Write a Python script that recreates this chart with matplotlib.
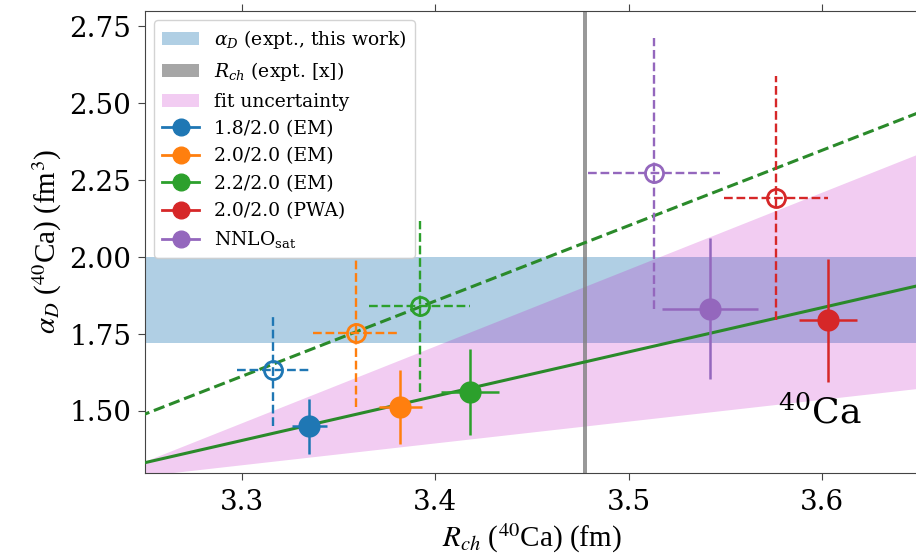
import matplotlib
matplotlib.use("Agg")
import matplotlib.pyplot as plt
import numpy as np
from matplotlib.lines import Line2D
from matplotlib.patches import Patch

# ---------------- data ----------------
labels = ['1.8/2.0 (EM)', '2.0/2.0 (EM)', '2.2/2.0 (EM)', '2.0/2.0 (PWA)', r'NNLO$_{\rm sat}$']
colors = ['#1f77b4', '#ff7f0e', '#2ca02c', '#d62728', '#9467bd']

# filled points (solid error bars)
r_filled = [3.335, 3.382, 3.418, 3.603, 3.542]
a_filled = [1.450, 1.512, 1.562, 1.795, 1.833]
r_filled_err = [0.009, 0.011, 0.015, 0.015, 0.025]
a_filled_err = [0.090, 0.120, 0.140, 0.200, 0.230]

# open points (dashed error bars)
r_open = [3.316, 3.359, 3.392, 3.576, 3.513]
a_open = [1.632, 1.752, 1.840, 2.192, 2.273]
r_open_err = [0.0185, 0.022, 0.026, 0.027, 0.034]
a_open_err = [0.180, 0.240, 0.277, 0.397, 0.440]

# experimental bands
alpha_expt = [1.72, 2.00]          # alpha_D band (lo, hi)
rch_expt = 3.4776                   # R_ch experiment
rch_expt_err = 0.001

# linear fits: alpha = intercept + slope * R
fit_solid = (-3.348, 1.44)
fit_dashed = (-6.4725, 2.45)
band_lower = (-1.0196, 0.71)
band_upper = (-6.7905, 2.50)

xlim = (3.25, 3.65)
ylim = (1.30, 2.80)
xticks = [3.3, 3.4, 3.5, 3.6]
yticks = [1.50, 1.75, 2.00, 2.25, 2.50, 2.75]

# ---------------- plot ----------------
W, H = 916, 557
fig = plt.figure(figsize=(W / 100, H / 100), dpi=100)
ax = fig.add_axes([145 / W, 1 - 472.5 / H, (919 - 145) / W, (472.5 - 11) / H])

serif = ['DejaVu Serif']
xs = np.linspace(xlim[0] - 0.05, xlim[1] + 0.05, 200)

# bands
ax.axhspan(alpha_expt[0], alpha_expt[1], color='#1f77b4', alpha=0.35, lw=0, zorder=1)
ax.fill_between(xs, band_lower[0] + band_lower[1] * xs, band_upper[0] + band_upper[1] * xs,
                color='m', alpha=0.2, lw=0, zorder=1.5)
ax.axvspan(rch_expt - rch_expt_err, rch_expt + rch_expt_err, color='grey', alpha=0.8, lw=0, zorder=2)

# fit lines
line_green = '#2a8a2a'
ax.plot(xs, fit_solid[0] + fit_solid[1] * xs, '-', color=line_green, lw=2.2, zorder=3)
ax.plot(xs, fit_dashed[0] + fit_dashed[1] * xs, '--', color=line_green, lw=2.2, zorder=3)

# points
for i, c in enumerate(colors):
    eb = ax.errorbar(r_open[i], a_open[i], xerr=r_open_err[i], yerr=a_open_err[i],
                     fmt='o', mfc='none', mec=c, ms=13, mew=2, ecolor=c,
                     elinewidth=1.7, capsize=0, zorder=4)
    for lc in eb[2]:
        lc.set_linestyle('--')
    ax.errorbar(r_filled[i], a_filled[i], xerr=r_filled_err[i], yerr=a_filled_err[i],
                fmt='o', color=c, ms=15, elinewidth=1.8, capsize=0, zorder=5)

ax.text(3.577, 1.458, r'$^{40}$Ca', fontsize=26, family=serif, math_fontfamily='dejavuserif',
        ha='left', va='baseline', zorder=6)

ax.set_xlim(*xlim)
ax.set_ylim(*ylim)
ax.set_xticks(xticks)
ax.set_yticks(yticks)
ax.set_xticklabels([f'{v:.1f}' for v in xticks], family=serif, fontsize=20)
ax.set_yticklabels([f'{v:.2f}' for v in yticks], family=serif, fontsize=20)
ax.tick_params(axis='x', top=True, direction='out', length=5, pad=7, color='#444444')
ax.tick_params(axis='y', direction='out', length=5, pad=5, color='#444444')
for s in ax.spines.values():
    s.set_color('#444444')

ax.set_xlabel(r'$R_{ch}$ ($^{40}$Ca) (fm)', family=['Liberation Serif'], fontsize=21,
              math_fontfamily='stix', labelpad=4)
ax.set_ylabel(r'$\alpha_D$ ($^{40}$Ca) (fm$^3$)', family=['Liberation Serif'], fontsize=21,
              math_fontfamily='stix', labelpad=4)

handles = [
    Patch(facecolor='#1f77b4', alpha=0.35, lw=0),
    Patch(facecolor='grey', alpha=0.7, lw=0),
    Patch(facecolor='m', alpha=0.2, lw=0),
] + [Line2D([], [], color=c, marker='o', ms=12, lw=2) for c in colors]
leg_labels = [r'$\alpha_D$ (expt., this work)', r'$R_{ch}$ (expt. [x])', 'fit uncertainty'] + labels
leg = ax.legend(handles, leg_labels, loc='upper left', prop={'family': serif, 'size': 13.5},
                borderaxespad=0.5, framealpha=0.85, edgecolor='#cccccc')
for t in leg.get_texts():
    t.set_math_fontfamily('dejavuserif')

fig.savefig('out.png', dpi=100)
